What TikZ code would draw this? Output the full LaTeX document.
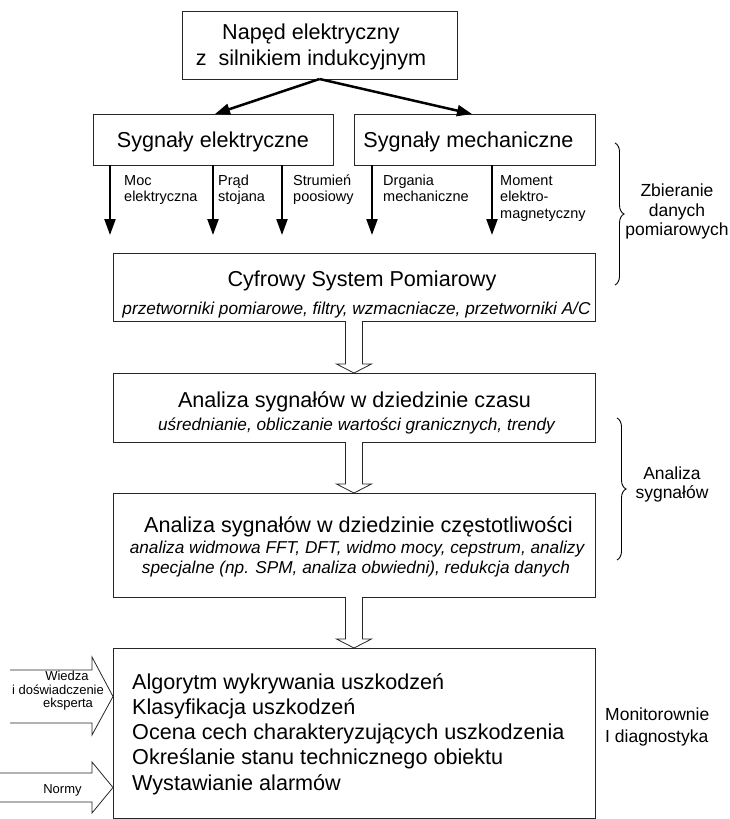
\documentclass[tikz,border=0pt]{standalone}
\usepackage{fontspec}
\setmainfont{Liberation Sans}
\usetikzlibrary{arrows.meta,calc,decorations.pathreplacing}
\newcommand{\hollowdown}[2]{%
  \draw[hollow] ($(#1.south)+(-8.5,0)$) -- ($(#2.north)+(-8.5,-9)$) -- ($(#2.north)+(-17.5,-9)$)
    -- (#2.north) -- ($(#2.north)+(17.5,-9)$) -- ($(#2.north)+(8.5,-9)$) -- ($(#1.south)+(8.5,0)$);}
\begin{document}
\begin{tikzpicture}[x=1pt,y=-1pt,
  box/.style={draw=black!85, line width=0.9pt, inner sep=0pt, outer sep=0pt},
  big/.style={font=\fontsize{21.6}{25}\selectfont, anchor=base, inner sep=0pt},
  bigl/.style={font=\fontsize{21.6}{25}\selectfont, anchor=base west, inner sep=0pt},
  ital/.style={font=\fontsize{17.2}{20}\selectfont\itshape, anchor=base, inner sep=0pt},
  sig/.style={font=\fontsize{14.5}{17}\selectfont, anchor=base west, inner sep=0pt},
  side/.style={font=\fontsize{17.5}{20}\selectfont, anchor=base, inner sep=0pt},
  sidel/.style={font=\fontsize{17.5}{20}\selectfont, anchor=base west, inner sep=0pt},
  small/.style={font=\fontsize{13}{15}\selectfont, anchor=base, inner sep=0pt},
  sigarrow/.style={line width=2.2pt, -{Triangle[length=16pt,width=11pt]}},
  toparrow/.style={line width=2.5pt, -{Triangle[length=15pt,width=11pt]}},
  hollow/.style={draw=black!85, line width=0.8pt, fill=white, line join=miter},
  bracestyle/.style={decorate, decoration={brace, amplitude=9pt}, line width=0.9pt}
]
\useasboundingbox (0,0) rectangle (729,819);

% boxes
\node[box, minimum width=275pt, minimum height=68pt] (top) at (319.5,45) {};
\node[box, minimum width=240pt, minimum height=51pt] (selek) at (213,139.5) {};
\node[box, minimum width=241pt, minimum height=51pt] (smech) at (474.5,139.5) {};
\node[box, minimum width=482pt, minimum height=68pt] (cyfr) at (354,287) {};
\node[box, minimum width=482pt, minimum height=69pt] (czas) at (354,407.5) {};
\node[box, minimum width=482pt, minimum height=104pt] (czest) at (354,545) {};
\node[box, minimum width=482pt, minimum height=170pt] (diag) at (354,733) {};

% box texts
\node[big] (t1) at (311,39) {Napęd elektryczny};
\node[big] (t2) at (311,65) {z\ \ silnikiem indukcyjnym};
\node[big] (se) at (213,147) {Sygnały elektryczne};
\node[big] (sm) at (468.5,147) {Sygnały mechaniczne};
\node[big] (c1) at (362,286) {Cyfrowy System Pomiarowy};
\node[ital] (c2) at (356.5,314) {przetworniki pomiarowe, filtry, wzmacniacze, przetworniki A/C};
\node[big] (z1) at (354.5,407) {Analiza sygnałów w dziedzinie czasu};
\node[ital] (z2) at (356.5,430) {uśrednianie, obliczanie wartości granicznych, trendy};
\node[big] (f1) at (358.5,532) {Analiza sygnałów w dziedzinie częstotliwości};
\node[ital] (f2) at (357,553) {analiza widmowa FFT, DFT, widmo mocy, cepstrum, analizy};
\node[ital] (f3) at (356,573) {specjalne (np. SPM, analiza obwiedni), redukcja danych};
\node[bigl] (d1) at (132,689) {Algorytm wykrywania uszkodzeń};
\node[bigl] (d2) at (132,714.3) {Klasyfikacja uszkodzeń};
\node[bigl] (d3) at (132,739.6) {Ocena cech charakteryzujących uszkodzenia};
\node[bigl] (d4) at (132,764.9) {Określanie stanu technicznego obiektu};
\node[bigl] (d5) at (132,790.2) {Wystawianie alarmów};

% top arrows
\coordinate (ta) at (215,114);
\coordinate (tb) at (472,114);
\draw[toparrow] (top.south) -- (ta |- selek.north);
\draw[toparrow] (top.south) -- (tb |- smech.north);

% signal arrows
\coordinate (a1) at (110,235);
\coordinate (a2) at (213,235);
\coordinate (a3) at (282,235);
\coordinate (a4) at (372,235);
\coordinate (a5) at (492,235);
\draw[sigarrow] (a1 |- selek.south) -- (a1);
\draw[sigarrow] (a2 |- selek.south) -- (a2);
\draw[sigarrow] (a3 |- selek.south) -- (a3);
\draw[sigarrow] (a4 |- smech.south) -- (a4);
\draw[sigarrow] (a5 |- smech.south) -- (a5);

% signal labels
\node[sig] (m1) at (124,185) {Moc};
\node[sig] (m2) at (124,201.5) {elektryczna};
\node[sig] (p1) at (218,185) {Prąd};
\node[sig] (p2) at (218,201.5) {stojana};
\node[sig] (s1) at (293,185) {Strumień};
\node[sig] (s2) at (293,201.5) {poosiowy};
\node[sig] (g1) at (383,185) {Drgania};
\node[sig] (g2) at (383,201.5) {mechaniczne};
\node[sig] (e1) at (500,185) {Moment};
\node[sig] (e2) at (500,201.5) {elektro-};
\node[sig] (e3) at (500,218) {magnetyczny};

% hollow arrows
\hollowdown{cyfr}{czas}
\hollowdown{czas}{czest}
\hollowdown{czest}{diag}

% left inputs
\coordinate (w0) at (10,696.5);
\coordinate (n0) at (0,787.5);
\draw[hollow] (10,670) -- (92,670) -- (92,657) -- (diag.west |- w0) -- (92,735) -- (92,723) -- (10,723);
\draw[hollow] (0,773) -- (92,773) -- (92,762) -- (diag.west |- n0) -- (92,813) -- (92,802) -- (0,802);
\node[small] (lw1) at (67,680) {Wiedza};
\node[small] (lw2) at (58,694) {i doświadczenie};
\node[small] (lw3) at (68,707.5) {eksperta};
\node[small] (ln) at (62.5,793) {Normy};

% braces and side labels
\draw[bracestyle] (615,143) -- (615,285);
\draw[bracestyle] (617,418) -- (617,560);
\node[side] (zb1) at (677,196.5) {Zbieranie};
\node[side] (zb2) at (677,216) {danych};
\node[side] (zb3) at (677,235.5) {pomiarowych};
\node[side] (as1) at (672,479) {Analiza};
\node[side] (as2) at (672,498) {sygnałów};
\node[sidel] (mo1) at (605,720.5) {Monitorownie};
\node[sidel] (mo2) at (605,742.5) {I diagnostyka};
\end{tikzpicture}
\end{document}
